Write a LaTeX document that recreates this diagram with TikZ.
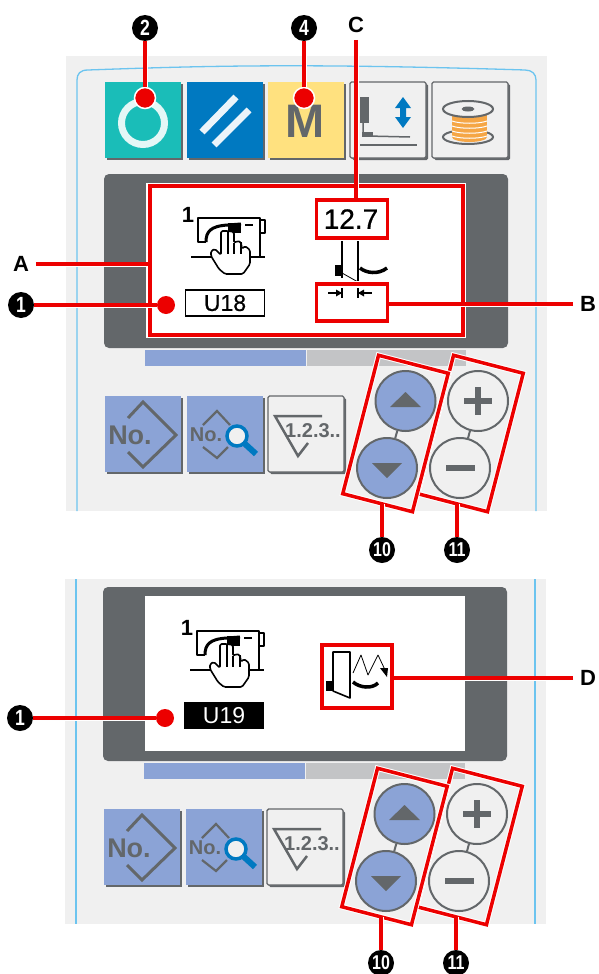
\documentclass[tikz,border=0pt]{standalone}
\usepackage{fontspec}
\setsansfont{Liberation Sans}
\newfontfamily\badgefont[FakeStretch=.8]{Liberation Sans}
\newfontfamily\lcdfont[FakeBold=.6]{Liberation Sans}
\usetikzlibrary{shadows}
\definecolor{panel}{HTML}{F0F0F0}
\definecolor{frameblue}{HTML}{6CC4EF}
\definecolor{ink}{HTML}{63676A}
\definecolor{keyblue}{HTML}{8BA3D6}
\definecolor{barblue}{HTML}{8BA3D6}
\definecolor{bargray}{HTML}{C3C4C6}
\definecolor{keyteal}{HTML}{1ABDB8}
\definecolor{keyazure}{HTML}{0079C1}
\definecolor{keyyellow}{HTML}{FFE17F}
\definecolor{thread}{HTML}{F5A646}
\definecolor{callred}{HTML}{EC0000}

\begin{document}
\begin{tikzpicture}[
  x=1pt,y=1pt,font=\sffamily,
  keycap/.style={minimum size=76,inner sep=0pt,
    drop shadow={shadow xshift=2pt,shadow yshift=-2pt,fill=ink,opacity=1}},
  whitecap/.style={keycap,fill=panel,draw=ink,line width=1.4pt,rounded corners=1.5pt},
  dial/.style={circle,draw=ink,line width=2pt,minimum size=60,inner sep=0pt},
  glyph/.style={fill=ink},
  stroke/.style={draw=ink,line width=3pt},
  pixel/.style={draw=black,line width=1.6pt,line join=round},
  heavy/.style={draw=black,line width=3.5pt},
  callbox/.style={draw=callred,line width=3.5pt,inner sep=0pt,
    preaction={draw=white,line width=5.5pt}},
  leader/.style={draw=callred,line width=3.5pt,
    preaction={draw=white,line width=5pt}},
  spot/.style={circle,fill=callred,minimum size=21,inner sep=0pt},
  badge/.style={circle,fill=black,text=white,minimum size=26,inner sep=0pt,
    font=\badgefont\bfseries\fontsize{22}{22}\selectfont},
  tenbadge/.style={badge,font=\badgefont\bfseries\fontsize{20}{20}\selectfont},
  tag/.style={font=\sffamily\bfseries\fontsize{22}{22}\selectfont,inner sep=1pt,outer sep=6pt}
]
\path[use as bounding box] (0,0) rectangle (598,-974);
\fill[panel] (66,-56) rectangle (547,-511);
\fill[panel] (65,-579) rectangle (546,-924);
\draw[frameblue,line width=1.3pt] (77,-511) -- (77,-80) .. controls (77,-74) and (80,-70) .. (88,-70)
  .. controls (200,-66) and (300,-63) .. (525,-70) .. controls (532,-70) and (536,-74) .. (536,-80) -- (536,-511);
\draw[frameblue,line width=1.3pt] (76,-579) -- (76,-924);
\draw[frameblue,line width=1.3pt] (535,-579) -- (535,-924);

\node[keycap,fill=keyteal] (teal) at (143,-120) {};
\node[circle,draw=white!88!keyteal,line width=7pt,minimum size=43,inner sep=0pt] (ring) at (143,-123) {};
\node[keycap,fill=keyazure] (azure) at (225,-120) {};
\draw[white!92!keyazure,line width=7pt] (202,-132) -- (236,-97);
\draw[white!92!keyazure,line width=7pt] (214,-145) -- (249,-110);
\node[keycap,fill=keyyellow] (yellow) at (306,-120) {};
\node[text=ink,font=\sffamily\bfseries\fontsize{47}{47}\selectfont,inner sep=0pt] (mode) at (305,-121) {M};
\node[whitecap] (foot) at (388,-120) {};
\fill[ink] (360,-97) rectangle (369,-123);
\draw[ink,line width=1.5pt] (363,-123) -- (363,-133) -- (367,-136) -- (410,-137);
\fill[ink] (362,-132) rectangle (373,-137);
\draw[ink,line width=2pt] (360,-145) -- (417,-145);
\fill[keyazure] (403,-97) -- (411,-108) -- (406,-108) -- (406,-117) -- (411,-117) -- (403,-128)
  -- (395,-117) -- (400,-117) -- (400,-108) -- (395,-108) -- cycle;
\node[whitecap] (bobbin) at (470,-120) {};
\draw[ink,line width=2pt] (468,-137) ellipse (25 and 7);
\fill[thread] (452,-111) rectangle (487,-137);
\fill[thread] (487,-137) arc (0:-180:17.5 and 5) -- cycle;
\foreach \yy in {-121,-126,-131,-136}
  \draw[white,line width=1pt] (452,\yy) .. controls (460,\yy-3) and (479,\yy-3) .. (487,\yy);
\draw[ink,fill=panel,line width=2pt] (468,-109) ellipse (25 and 8);
\fill[ink] (468,-109) ellipse (6.5 and 2.5);

\foreach \p/\dx/\dy in {a/0/0,b/-1/-413}{
\begin{scope}[shift={(\dx,\dy)}]
  \node[fill=ink,rounded corners=5pt,minimum width=404,minimum height=174,inner sep=0pt] (dark\p) at (306,-261) {};
  \node[fill=white,minimum width=320,minimum height=155,inner sep=0pt] (screen\p) at (306,-260.5) {};
  \fill[barblue] (145,-350) rectangle (306,-366);
  \fill[bargray] (307,-350) rectangle (466,-366);
  \node[keycap,fill=keyblue] (num\p) at (143,-434) {};
  \node[keycap,fill=keyblue] (find\p) at (225,-434) {};
  \node[whitecap] (list\p) at (306,-434) {};
  \node[text=ink,font=\sffamily\bfseries\fontsize{27}{27}\selectfont,inner sep=0pt] (numtext\p) at (130,-435) {No.};
  \draw[stroke] (128,-418) -- (143,-402) -- (176,-435) -- (143,-467) -- (128,-452);
  \node[text=ink,font=\sffamily\bfseries\fontsize{20}{20}\selectfont,inner sep=0pt] (findtext\p) at (206,-435) {No.};
  \draw[stroke,line width=2.2pt] (203,-425) -- (217,-411) -- (230,-425);
  \draw[stroke,line width=2.2pt] (203,-447) -- (217,-458) -- (228,-447);
  \draw[keyazure,line width=6pt] (244,-443) -- (256,-454);
  \node[circle,draw=keyazure,fill=panel,line width=3.5pt,minimum size=20,inner sep=0pt] (lens\p) at (237,-436) {};
  \draw[stroke,line width=2.5pt] (308,-443) -- (298,-456) -- (275,-416) -- (322,-416);
  \node[text=ink,font=\sffamily\bfseries\fontsize{20}{20}\selectfont,inner sep=0pt] (listtext\p) at (313,-431) {1.2.3..};
  \node[dial,fill=keyblue] (up\p) at (405.5,-401) {};
  \node[dial,fill=keyblue] (down\p) at (387,-468) {};
  \node[dial] (plus\p) at (478,-401) {};
  \node[dial] (minus\p) at (460,-468) {};
  \draw[ink,line width=2pt] (up\p) -- (down\p);
  \draw[ink,line width=2pt] (plus\p) -- (minus\p);
  \fill[glyph] (405.5,-392) -- (421,-407) -- (390,-407) -- cycle;
  \fill[glyph] (387,-478) -- (402,-463) -- (372,-463) -- cycle;
  \draw[ink,line width=6pt] (464,-401) -- (492,-401);
  \draw[ink,line width=6pt] (478,-387) -- (478,-415);
  \draw[ink,line width=6pt] (446,-468) -- (475,-468);
  \begin{scope}[shift={(198,-218)}]
    \node[font=\sffamily\bfseries\fontsize{22}{22}\selectfont,inner sep=0pt] (one\p) at (-10,3) {1};
    \draw[pixel] (8,-24) -- (0,-24) -- (0,0) -- (62,0) -- (62,-39);
    \draw[pixel,line width=2.5pt] (62,-2) -- (67,-2) -- (67,-15) -- (62,-15);
    \draw[heavy,line width=3pt] (8,-24) .. controls (8,-14) and (12,-8) .. (30,-7) -- (43,-6);
    \fill (30,-5) rectangle (43,-15);
    \draw[pixel,line width=2.5pt] (47,-7) -- (55,-7);
    \draw[pixel,line width=2.5pt] (-7,-39) -- (16,-39);
    \draw[pixel,line width=2.5pt] (50,-39) -- (67,-39);
    \draw[pixel,fill=white,rounded corners=1.5pt] (27,-56) -- (45,-56) -- (52,-46) -- (52,-32) -- (47,-28) -- (44,-31)
      -- (43,-24) -- (39,-23) -- (36,-25) -- (36,-14) -- (30,-13) -- (23,-13) -- (23,-37) -- (17,-31) -- (13,-33) -- (13,-38) -- (21,-51) -- cycle;
    \draw[pixel] (30,-13) -- (30,-36);
    \draw[pixel] (36,-25) -- (36,-36);
    \draw[pixel] (43,-24) -- (43,-36);
  \end{scope}
\end{scope}
}

\draw[pixel] (342,-278) -- (342,-238) -- (358,-238) -- (358,-282);
\draw[pixel,line width=.8pt] (358,-282) -- (342,-273);
\fill (335,-265) rectangle (342,-276);
\draw[heavy] (360,-268) .. controls (366,-273) and (378,-275) .. (387,-268);
\draw[pixel] (328,-293) -- (342,-293);
\draw[pixel] (342,-288) -- (342,-298);
\draw[pixel] (358,-293) -- (372,-293);
\draw[pixel] (358,-288) -- (358,-298);
\fill (342,-293) -- (336,-289.5) -- (336,-296.5) -- cycle;
\fill (358,-293) -- (364,-289.5) -- (364,-296.5) -- cycle;
\node[draw=black,line width=1.4pt,minimum width=79,minimum height=26,inner sep=0pt,
  font=\lcdfont\fontsize{23}{23}\selectfont] (codeA) at (225,-303) {U18};
\node[font=\lcdfont\fontsize{28}{28}\selectfont,inner sep=0pt] (value) at (351,-219) {12.7};

\node[fill=black,text=white,minimum width=80,minimum height=27,inner sep=0pt,
  font=\sffamily\fontsize{23}{23}\selectfont] (codeB) at (224,-715.5) {U19};
\draw[pixel] (333,-691) -- (333,-652) -- (350,-652) -- (350,-698) -- (333,-691);
\fill (326,-681) rectangle (333,-691);
\draw[heavy] (353,-682) .. controls (360,-688) and (372,-689) .. (378,-683);
\draw[pixel,line width=.8pt] (353,-673) -- (361,-655) -- (368,-675) -- (378,-655) -- (386,-672);
\fill (388,-668) -- (380,-668) -- (387,-677) -- cycle;

\node[callbox,minimum width=313,minimum height=149] (boxA) at (306.5,-260.5) {};
\node[callbox,minimum width=71,minimum height=38] (boxC) at (352,-219) {};
\node[callbox,minimum width=71,minimum height=37] (boxB) at (352,-302.5) {};
\node[callbox,minimum width=70,minimum height=63] (boxD) at (357,-676.5) {};
\node[callbox,minimum width=72,minimum height=143,rotate=-14.5] (boxplusa) at (470.5,-433.5) {};
\node[callbox,minimum width=72,minimum height=143,rotate=-14.5] (boxupa) at (395.5,-433.5) {};
\node[callbox,minimum width=72,minimum height=143,rotate=-14.5] (boxplusb) at (469.5,-846.5) {};
\node[callbox,minimum width=72,minimum height=143,rotate=-14.5] (boxupb) at (394.5,-846.5) {};

\node[tag] (tagA) at (21,-264) {A};
\node[tag] (tagB) at (588,-304) {B};
\node[tag] (tagC) at (356,-25) {C};
\node[tag] (tagD) at (588,-678) {D};
\draw[leader] (tagA) -- (tagA -| boxA.west);
\draw[leader] (tagB) -- (tagB -| boxB.east);
\draw[leader] (tagC) -- (tagC |- boxC.north);
\draw[leader] (tagD) -- (tagD -| boxD.east);

\node[badge] (badgetwo) at (145,-28) {2};
\node[badge] (badgefour) at (304,-28) {4};
\node[badge] (badgeone) at (21,-305) {1};
\node[badge] (badgeoneb) at (20,-718) {1};
\node[tenbadge] (badgeten) at (382,-550) {10};
\node[tenbadge] (badgeeleven) at (457,-550) {11};
\node[tenbadge] (badgetenb) at (381,-963) {10};
\node[tenbadge] (badgeelevenb) at (456,-963) {11};
\node[spot,draw=white,line width=1.5pt] (spottwo) at (145,-98) {};
\node[spot,draw=white,line width=1.5pt] (spotfour) at (304,-98) {};
\node[spot,minimum size=18] (spotone) at (166,-305) {};
\node[spot,minimum size=18] (spotoneb) at (165,-718) {};
\draw[leader] (badgetwo) -- (spottwo);
\draw[leader] (badgefour) -- (spotfour);
\draw[leader] (badgeone) -- (spotone);
\draw[leader] (badgeoneb) -- (spotoneb);
\draw[leader] (badgeten) -- (badgeten |- boxupa.south);
\draw[leader] (badgeeleven) -- (badgeeleven |- boxplusa.south);
\draw[leader] (badgetenb) -- (badgetenb |- boxupb.south);
\draw[leader] (badgeelevenb) -- (badgeelevenb |- boxplusb.south);
\end{tikzpicture}
\end{document}
